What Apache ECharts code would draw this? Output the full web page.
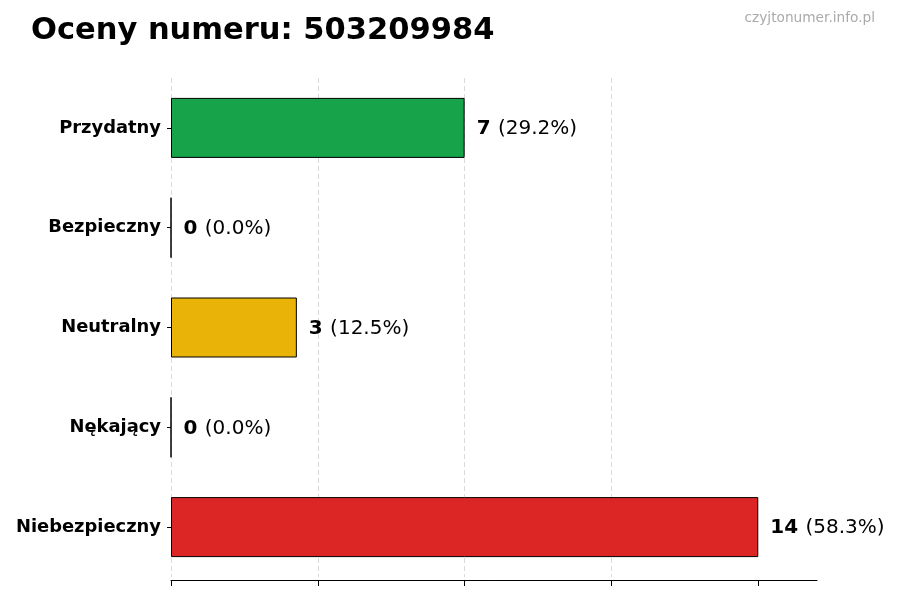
<!DOCTYPE html>
<html>
<head>
    <meta charset="UTF-8">
    <title>Oceny numeru</title>
    <script src="https://cdn.jsdelivr.net/npm/echarts@6/dist/echarts.min.js"></script>
</head>
<body style="margin:0">
<div id="main" style="width: 900px;height:600px;"></div>
<script>
    var categories = ['Przydatny', 'Bezpieczny', 'Neutralny', 'Nękający', 'Niebezpieczny'];
    var counts = [7, 0, 3, 0, 14];
    var percents = ['29.2%', '0.0%', '12.5%', '0.0%', '58.3%'];
    var colors = ['#16a34a', '#16a34a', '#eab308', '#dc2626', '#dc2626'];
    var xTicks = [0, 3.5, 7, 10.5, 14];

    var font = 'DejaVu Sans';
    var myChart = echarts.init(document.getElementById('main'));

    var option = {
        animation: false,
        backgroundColor: '#fff',
        title: [{
            text: 'Oceny numeru: 503209984',
            left: 26,
            top: 11,
            textStyle: {fontFamily: font, fontSize: 30.5, fontWeight: 'bold', color: '#000'}
        }, {
            text: 'czyjtonumer.info.pl',
            right: 20,
            top: 6,
            textStyle: {fontFamily: font, fontSize: 13.7, fontWeight: 'normal', color: '#aaa'}
        }],
        grid: {left: 171, right: 83, top: 78, bottom: 23},
        xAxis: {
            type: 'value',
            min: 0,
            max: 15.4,
            interval: 3.5,
            offset: 3,
            axisLine: {show: true, lineStyle: {color: '#000', width: 1}},
            axisTick: {show: true, length: 6, customValues: xTicks, lineStyle: {color: '#000'}},
            axisLabel: {show: false},
            splitLine: {show: true, showMaxLine: false, lineStyle: {color: '#d0d0d0', type: [5, 3], width: 0.8}}
        },
        yAxis: {
            type: 'category',
            inverse: true,
            data: categories,
            axisLine: {show: false},
            axisTick: {show: true, length: 4, alignWithLabel: true, lineStyle: {color: '#000'}},
            axisLabel: {fontFamily: font, fontSize: 17.9, fontWeight: 'bold', color: '#000', margin: 10, padding: [3, 0, 0, 0]}
        },
        series: [{
            type: 'bar',
            barWidth: 60,
            data: counts.map(function (v, i) {
                return {value: v, itemStyle: {color: colors[i]}};
            }),
            itemStyle: {borderColor: '#000', borderWidth: 1},
            label: {
                show: true,
                position: 'right',
                distance: 12,
                offset: [0, 1],
                formatter: function (p) {
                    return '{b|' + p.value + '}{n| (' + percents[p.dataIndex] + ')}';
                },
                rich: {
                    b: {fontFamily: font, fontSize: 20, fontWeight: 'bold', color: '#000'},
                    n: {fontFamily: font, fontSize: 20, color: '#000', padding: [0, 0, 0, 1]}
                }
            }
        }]
    };

    myChart.setOption(option);
</script>
</body>
</html>
